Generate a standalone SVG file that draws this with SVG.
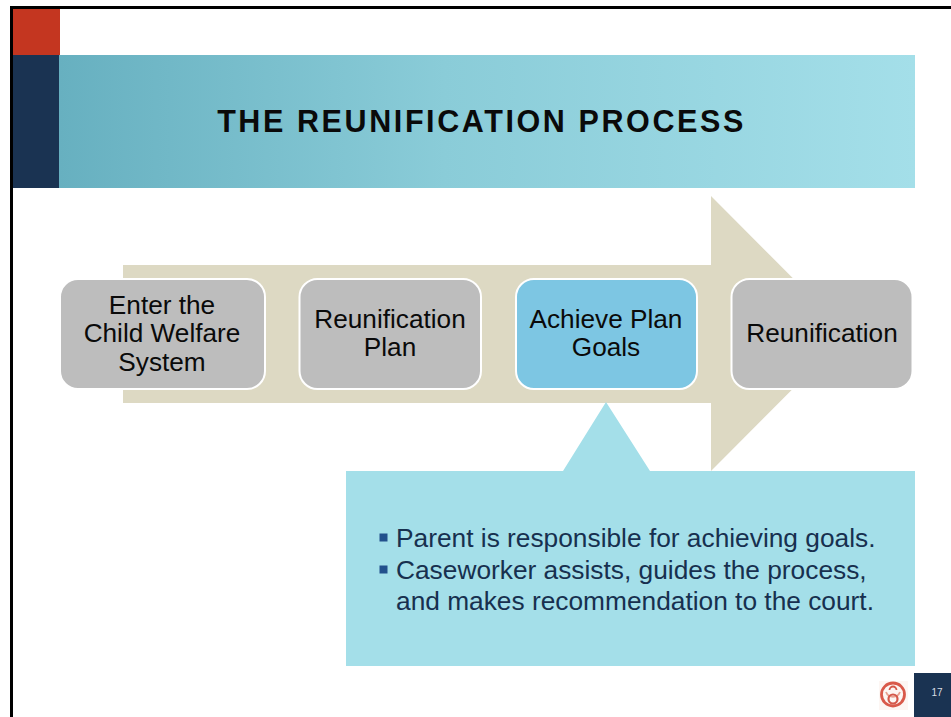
<svg xmlns="http://www.w3.org/2000/svg" width="951" height="717" viewBox="0 0 951 717">
<defs>
<linearGradient id="band" x1="0" x2="1" y1="0" y2="0"><stop offset="0" stop-color="#67b0c0"/><stop offset="0.45" stop-color="#8accd8"/><stop offset="1" stop-color="#a4dfe9"/></linearGradient>
</defs>
<style>
text{font-family:"Liberation Sans",Arial,sans-serif}
.n{stroke:#fff;stroke-width:2}
.g{fill:#bdbdbd}
.l{font-size:26.200px;fill:#0a0a0a;text-anchor:middle}
.b{font-size:26.300px;fill:#17304f}
</style>
<rect width="951" height="717" fill="#fff"/>
<path d="M11.500 717V7.500H951" fill="none" stroke="#000" stroke-width="3"/>
<rect x="13" y="9" width="47" height="46" fill="#c43620"/>
<rect x="13" y="55" width="46.500" height="133" fill="#1a3352"/>
<rect x="59" y="55" width="856" height="133" fill="url(#band)"/>
<text x="481.500" y="132" font-size="30.500" font-weight="700" letter-spacing="2.600" text-anchor="middle" fill="#0a0a0a">THE REUNIFICATION PROCESS</text>
<g id="connectors">
<path id="big-arrow" d="M123 265H711V196L848 333.500L711 471V403H123Z" fill="#ddd9c3"/>
</g>
<g id="node-enter"><rect class="n g" x="60" y="279" width="205" height="110" rx="18"/><text class="l"><tspan x="162" y="314">Enter the</tspan><tspan x="162" y="342">Child Welfare</tspan><tspan x="162" y="371">System</tspan></text></g>
<g id="node-plan"><rect class="n g" x="299.500" y="279" width="181.500" height="110" rx="18"/><text class="l"><tspan x="390" y="328">Reunification</tspan><tspan x="390" y="356">Plan</tspan></text></g>
<g id="node-goals"><rect class="n" fill="#7dc6e3" x="516" y="279" width="181" height="110" rx="18"/><text class="l"><tspan x="606" y="328">Achieve Plan</tspan><tspan x="606" y="356">Goals</tspan></text></g>
<g id="node-reunification"><rect class="n g" x="731.500" y="279" width="181" height="110" rx="18"/><text class="l" x="822" y="342">Reunification</text></g>
<g id="callout">
<path d="M346 471H563L606 402L650 471H915V666H346Z" fill="#a4dfe9"/>
<rect x="379.500" y="533.500" width="8" height="8" fill="#22508c"/>
<rect x="379.500" y="565.500" width="8" height="8" fill="#22508c"/>
<text class="b" x="396" y="547">Parent is responsible for achieving goals.</text>
<text class="b" x="396" y="579">Caseworker assists, guides the process,</text>
<text class="b" x="396" y="610">and makes recommendation to the court.</text>
</g>
<g id="logo" fill="none" stroke="#d4584a">
<rect x="879" y="681" width="29" height="29" fill="#fdf6f3" stroke="none"/>
<circle cx="893" cy="694.500" r="11.500" stroke-width="2.800" stroke="#d9594a"/>
<path d="M886 692A7.500 7.500 0 0 0 900 692" stroke-width="1.800" stroke="#e8a090"/>
<path d="M889.500 690A3.500 3.500 0 0 1 896.500 690" stroke-width="1.800"/>
<circle cx="893" cy="699" r="4.500" stroke-width="2.200"/>
</g>
<rect x="914" y="673" width="37" height="44" fill="#1a3352"/>
<text x="937" y="696" font-size="10" fill="#d8dde3" text-anchor="middle">17</text>
</svg>
